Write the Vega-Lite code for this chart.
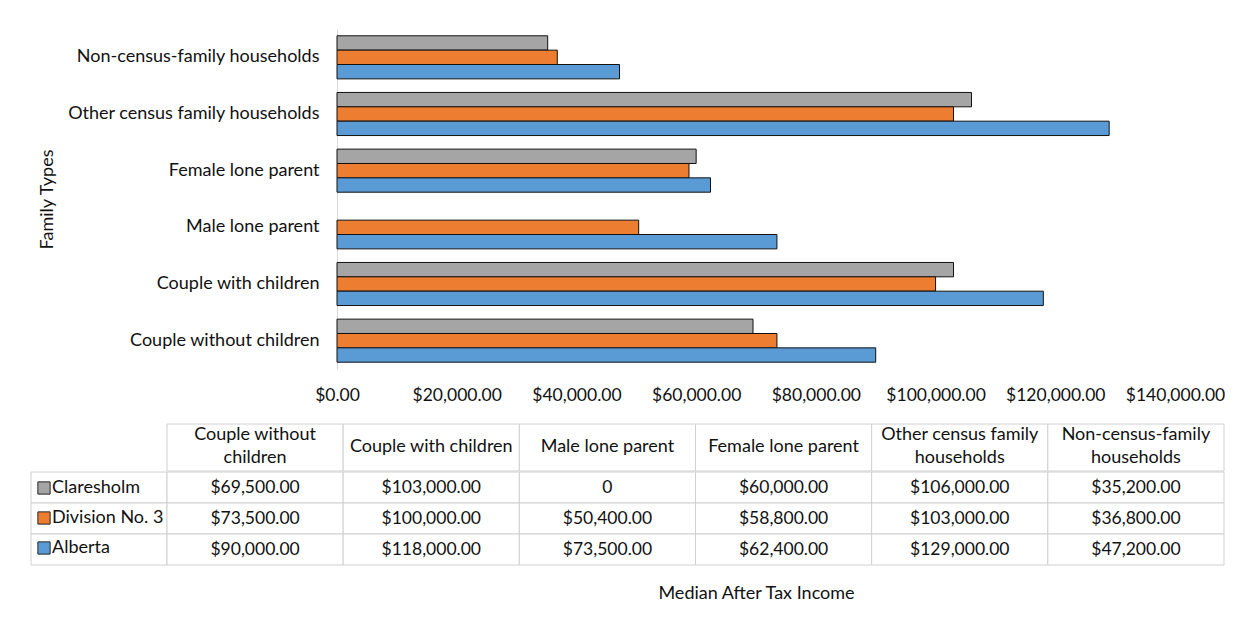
{
  "$schema": "https://vega.github.io/schema/vega-lite/v6.json",
  "padding": {"left": 30, "top": 29, "right": 0, "bottom": 0},
  "background": "white",
  "config": {"view": {"stroke": null}, "font": "Lato"},
  "datasets": {
    "income": [
      {"family": "Couple without children", "region": "Claresholm", "income": 69500},
      {"family": "Couple without children", "region": "Division No. 3", "income": 73500},
      {"family": "Couple without children", "region": "Alberta", "income": 90000},
      {"family": "Couple with children", "region": "Claresholm", "income": 103000},
      {"family": "Couple with children", "region": "Division No. 3", "income": 100000},
      {"family": "Couple with children", "region": "Alberta", "income": 118000},
      {"family": "Male lone parent", "region": "Claresholm", "income": 0},
      {"family": "Male lone parent", "region": "Division No. 3", "income": 50400},
      {"family": "Male lone parent", "region": "Alberta", "income": 73500},
      {"family": "Female lone parent", "region": "Claresholm", "income": 60000},
      {"family": "Female lone parent", "region": "Division No. 3", "income": 58800},
      {"family": "Female lone parent", "region": "Alberta", "income": 62400},
      {"family": "Other census family households", "region": "Claresholm", "income": 106000},
      {"family": "Other census family households", "region": "Division No. 3", "income": 103000},
      {"family": "Other census family households", "region": "Alberta", "income": 129000},
      {"family": "Non-census-family households", "region": "Claresholm", "income": 35200},
      {"family": "Non-census-family households", "region": "Division No. 3", "income": 36800},
      {"family": "Non-census-family households", "region": "Alberta", "income": 47200}
    ],
    "header": [
      {"family": "Couple without children", "label": "Couple without\nchildren"},
      {"family": "Couple with children", "label": "Couple with children"},
      {"family": "Male lone parent", "label": "Male lone parent"},
      {"family": "Female lone parent", "label": "Female lone parent"},
      {"family": "Other census family households", "label": "Other census family\nhouseholds"},
      {"family": "Non-census-family households", "label": "Non-census-family\nhouseholds"}
    ]
  },
  "spacing": 19,
  "resolve": {"scale": {"color": "independent"}, "legend": {"color": "independent"}},
  "vconcat": [
    {
      "bounds": "flush",
      "spacing": 0,
      "resolve": {"scale": {"color": "independent"}, "legend": {"color": "independent"}},
      "hconcat": [
        {
          "width": 306,
          "height": 340,
          "data": {"values": [{}]},
          "mark": {"type": "rect", "fill": "white", "opacity": 0}
        },
        {
          "width": 838,
          "height": 340,
          "data": {"name": "income"},
          "transform": [{"filter": "datum.income > 0"}],
          "mark": {"type": "bar", "stroke": "#111111", "strokeWidth": 1},
          "encoding": {
            "y": {
              "field": "family",
              "type": "nominal",
              "sort": ["Non-census-family households", "Other census family households", "Female lone parent", "Male lone parent", "Couple with children", "Couple without children"],
              "scale": {"paddingInner": 0.24, "paddingOuter": 0.12},
              "axis": {
                "title": "Family Types",
                "titleFontSize": 18,
                "titleFontWeight": "normal",
                "titleColor": "#111111",
                "titlePadding": 81,
                "labelFontSize": 18,
                "labelColor": "#111111",
                "labelPadding": 18,
                "labelLimit": 400,
                "ticks": false,
                "domainColor": "#d9d9d9",
                "domainWidth": 1
              }
            },
            "x": {
              "field": "income",
              "type": "quantitative",
              "scale": {"domain": [0, 140000], "nice": false},
              "axis": {
                "values": [0, 20000, 40000, 60000, 80000, 100000, 120000, 140000],
                "format": "$,.2f",
                "grid": false,
                "domain": false,
                "ticks": false,
                "labelFlush": false,
                "labelOverlap": false,
                "labelPadding": 17,
                "labelFontSize": 17.5,
                "labelColor": "#111111",
                "title": null
              }
            },
            "yOffset": {
              "field": "region",
              "type": "nominal",
              "sort": ["Claresholm", "Division No. 3", "Alberta"],
              "scale": {"domain": ["Claresholm", "Division No. 3", "Alberta"], "paddingInner": 0, "paddingOuter": 0}
            },
            "color": {
              "field": "region",
              "type": "nominal",
              "scale": {"domain": ["Claresholm", "Division No. 3", "Alberta"], "range": ["#A5A5A5", "#ED7D31", "#5B9BD5"]},
              "legend": null
            }
          }
        }
      ]
    },
    {
      "spacing": -5,
      "resolve": {"scale": {"color": "independent"}, "legend": {"color": "independent"}},
      "vconcat": [
        {
          "bounds": "flush",
          "spacing": 0,
          "hconcat": [
            {
              "width": 136,
              "height": 47,
              "data": {"values": [{}]},
              "mark": {"type": "rect", "fill": "white", "opacity": 0}
            },
            {
              "width": 1057,
              "height": 47,
              "data": {"name": "header"},
              "encoding": {
                "x": {
                  "field": "family",
                  "type": "nominal",
                  "sort": ["Couple without children", "Couple with children", "Male lone parent", "Female lone parent", "Other census family households", "Non-census-family households"],
                  "scale": {"paddingInner": 0, "paddingOuter": 0},
                  "axis": null
                }
              },
              "layer": [
                {"mark": {"type": "rect", "fill": "white", "stroke": "#d0d0d0", "strokeWidth": 1}},
                {
                  "transform": [{"filter": "indexof(datum.label, '\\n') < 0"}],
                  "mark": {"type": "text", "fontSize": 18, "color": "#111111", "dy": -1},
                  "encoding": {"text": {"field": "label", "type": "nominal"}}
                },
                {
                  "transform": [{"filter": "indexof(datum.label, '\\n') >= 0"}],
                  "mark": {"type": "text", "lineBreak": "\n", "fontSize": 18, "lineHeight": 23, "color": "#111111", "dy": -13},
                  "encoding": {"text": {"field": "label", "type": "nominal"}}
                }
              ]
            }
          ]
        },
        {
          "bounds": "flush",
          "spacing": 0,
          "resolve": {"scale": {"color": "independent"}, "legend": {"color": "independent"}},
          "hconcat": [
            {
              "width": 136,
              "height": 93,
              "data": {"name": "income"},
              "transform": [{"aggregate": [{"op": "count", "as": "n"}], "groupby": ["region"]}],
              "encoding": {
                "y": {
                  "field": "region",
                  "type": "nominal",
                  "sort": ["Claresholm", "Division No. 3", "Alberta"],
                  "scale": {"paddingInner": 0, "paddingOuter": 0},
                  "axis": null
                }
              },
              "layer": [
                {"mark": {"type": "rect", "fill": "white", "stroke": "#d0d0d0", "strokeWidth": 1}},
                {
                  "mark": {"type": "rect", "opacity": 0},
                  "encoding": {
                    "color": {
                      "field": "region",
                      "type": "nominal",
                      "scale": {"domain": ["Claresholm", "Division No. 3", "Alberta"], "range": ["#A5A5A5", "#ED7D31", "#5B9BD5"]},
                      "legend": {
                        "title": null,
                        "orient": "none",
                        "legendX": 4,
                        "legendY": 7,
                        "direction": "vertical",
                        "symbolType": "square",
                        "symbolSize": 150,
                        "symbolOpacity": 1,
                        "symbolStrokeColor": "#262626",
                        "symbolStrokeWidth": 1,
                        "labelFontSize": 18,
                        "labelColor": "#111111",
                        "labelOffset": -1,
                        "rowPadding": 12
                      }
                    }
                  }
                }
              ]
            },
            {
              "width": 1057,
              "height": 93,
              "data": {"name": "income"},
              "encoding": {
                "x": {
                  "field": "family",
                  "type": "nominal",
                  "sort": ["Couple without children", "Couple with children", "Male lone parent", "Female lone parent", "Other census family households", "Non-census-family households"],
                  "scale": {"paddingInner": 0, "paddingOuter": 0},
                  "axis": {
                    "labels": false,
                    "ticks": false,
                    "domain": false,
                    "title": "Median After Tax Income",
                    "titleFontSize": 18,
                    "titleFontWeight": "normal",
                    "titleColor": "#111111",
                    "titlePadding": 19,
                    "titleX": 589
                  }
                },
                "y": {
                  "field": "region",
                  "type": "nominal",
                  "sort": ["Claresholm", "Division No. 3", "Alberta"],
                  "scale": {"paddingInner": 0, "paddingOuter": 0},
                  "axis": null
                }
              },
              "layer": [
                {"mark": {"type": "rect", "fill": "white", "stroke": "#d0d0d0", "strokeWidth": 1}},
                {
                  "mark": {"type": "text", "fontSize": 17.5, "color": "#111111"},
                  "encoding": {
                    "text": {
                      "condition": {"test": "datum.income === 0", "value": "0"},
                      "field": "income",
                      "type": "quantitative",
                      "format": "$,.2f"
                    }
                  }
                }
              ]
            }
          ]
        }
      ]
    }
  ]
}
